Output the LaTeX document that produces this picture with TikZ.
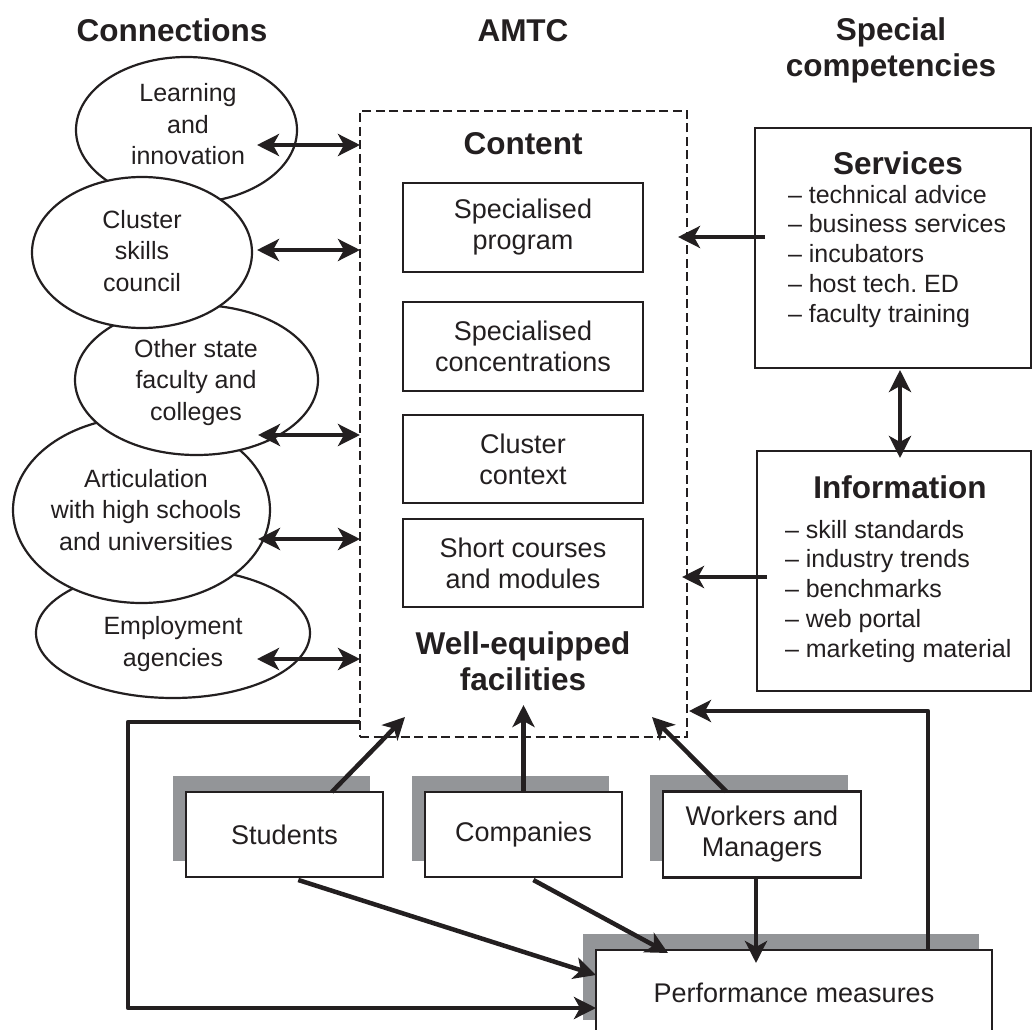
\documentclass[tikz,border=0pt]{standalone}
\usepackage{fontspec}
\setmainfont{Liberation Sans}
\usetikzlibrary{arrows.meta,shapes.geometric,shadows,calc}
\definecolor{ink}{RGB}{35,31,32}
\definecolor{shade}{RGB}{147,149,152}
\frenchspacing

\begin{document}
\begin{tikzpicture}[x=1pt,y=-1pt,
  every node/.style={inner sep=0pt, outer sep=0pt, text=ink},
  % multi-line nodes are anchored at the baseline of their last line
  head/.style={font=\fontsize{31.5}{36}\selectfont\bfseries, align=center, anchor=base},
  ell/.style={ellipse, draw=ink, line width=2.2pt, fill=white},
  etext/.style={font=\fontsize{25}{31.5}\selectfont, align=center, anchor=base},
  box/.style={draw=ink, line width=2.4pt, fill=white, font=\fontsize{27}{31}\selectfont, align=center},
  shbox/.style={box, drop shadow={shadow xshift=-13.5pt, shadow yshift=16.5pt, fill=shade, opacity=1}},
  list/.style={font=\fontsize{25}{29.75}\selectfont, align=left, anchor=base west},
  arr/.style={line width=4.5pt, draw=ink, -{Stealth[length=22pt,width=22pt,inset=6pt]}},
  darr/.style={line width=4.5pt, draw=ink, {Stealth[length=22pt,width=22pt,inset=6pt]}-{Stealth[length=22pt,width=22pt,inset=6pt]}},
  loop/.style={line width=4.5pt, draw=ink, line join=round, -{Stealth[length=22pt,width=22pt,inset=6pt]}},
]
\fill[white] (0,0) rectangle (1034,1030);
\useasboundingbox (0,0) rectangle (1034,1030);

% column headings
\node[head] (hcon) at (172,42) {Connections};
\node[head] (hamtc) at (523,42) {AMTC};
\node[head] (hspec) at (891,77) {Special\\competencies};

% connections (stacked ellipses, lower ones first)
\node[ell, minimum width=274pt, minimum height=130pt] (e5) at (173,633) {};
\node[ell, minimum width=257pt, minimum height=186pt] (e4) at (141.5,510) {};
\node[ell, minimum width=243pt, minimum height=150pt] (e3) at (196.5,380) {};
\node[ell, minimum width=221pt, minimum height=146pt] (e1) at (186.5,130) {};
\node[ell, minimum width=220pt, minimum height=151pt] (e2) at (142,252.5) {};

\node[etext] (t1) at (188,165) {Learning\\and\\innovation};
\node[etext] (t2) at (142,291) {Cluster\\skills\\council};
\node[etext] (t3) at (196,420) {Other state\\faculty and\\colleges};
\node[etext] (t4) at (146,550) {Articulation\\with high schools\\and universities};
\node[etext] (t5) at (173,666) {Employment\\agencies};

% AMTC frame and its content
\node[draw=ink, line width=2pt, dash pattern=on 9pt off 4.5pt, minimum width=327pt, minimum height=626pt] (amtc) at (523.5,424) {};
\node[head] (content) at (523,155) {Content};
\node[box, minimum width=240pt, minimum height=89pt] (prog) at (523,227.5) {Specialised\\program};
\node[box, minimum width=240pt, minimum height=89pt] (conc) at (523,346.5) {Specialised\\concentrations};
\node[box, minimum width=240pt, minimum height=88pt] (ctx) at (523,459) {Cluster\\context};
\node[box, minimum width=240pt, minimum height=88pt] (short) at (523,563) {Short courses\\and modules};
\node[head] (fac) at (523,690) {Well-equipped\\facilities};

% special competencies
\node[draw=ink, line width=2.4pt, minimum width=276pt, minimum height=240pt] (srv) at (893,248) {};
\node[head] (srvt) at (898,175) {Services};
\node[list] (srvl) at (788,322) {– technical advice\\– business services\\– incubators\\– host tech. ED\\– faculty training};

\node[draw=ink, line width=2.4pt, minimum width=274pt, minimum height=240pt] (inf) at (894,571) {};
\node[head] (inft) at (900,498) {Information};
\node[list] (infl) at (785,657) {– skill standards\\– industry trends\\– benchmarks\\– web portal\\– marketing material};

% stakeholders and measures
\node[shbox, minimum width=197pt, minimum height=85pt] (stu) at (284.5,834.5) {Students};
\node[shbox, minimum width=197pt, minimum height=85pt] (com) at (523.5,834.5) {Companies};
\node[shbox, minimum width=198pt, minimum height=86pt] (wrk) at (762,834.5) {Workers and\\Managers};
\node[shbox, minimum width=396pt, minimum height=86pt] (perf) at (794,993) {Performance measures};

% connector end points
\coordinate (c1) at (257,145);
\coordinate (c2) at (257,250);
\coordinate (c3) at (258,435);
\coordinate (c4) at (258,539);
\coordinate (c5) at (257,659);
\coordinate (srvout) at (765,237);
\coordinate (srvin) at (678,237);
\coordinate (infout) at (767,577);
\coordinate (infin) at (682,577);
\coordinate (stuin) at (405,717);
\coordinate (comin) at (523.5,705);
\coordinate (wrkin) at (652,717);
\coordinate (stuperf) at (596,975);
\coordinate (comperf) at (668,953);
\coordinate (wrkperf) at (756,963);
\coordinate (loopL) at (128,722);
\coordinate (loopB) at (128,1008);
\coordinate (loopR) at (928,711);
\coordinate (fbin) at (689,711);

% links between connections and AMTC
\draw[darr] (c1) -- (c1 -| amtc.west);
\draw[darr] (c2) -- (c2 -| amtc.west);
\draw[darr] (c3) -- (c3 -| amtc.west);
\draw[darr] (c4) -- (c4 -| amtc.west);
\draw[darr] (c5) -- (c5 -| amtc.west);

% competencies feed AMTC
\draw[arr] (srvout) -- (srvin);
\draw[arr] (infout) -- (infin);
\draw[darr] ([xshift=7pt,yshift=-2pt]srv.south) -- ([xshift=6pt,yshift=-7pt]inf.north);

% stakeholders feed AMTC
\draw[arr] ($(stu.north west)!0.74!(stu.north east)$) -- (stuin);
\draw[arr] (com.north) -- (comin);
\draw[arr] ($(wrk.north west)!0.32!(wrk.north east)$) -- (wrkin);

% stakeholders feed measures
\draw[arr] ($(stu.south west)!0.57!(stu.south east)+(0,3)$) -- (stuperf);
\draw[arr] ($(com.south west)!0.55!(com.south east)+(0,3)$) -- (comperf);
\draw[arr] (wrk.south -| wrkperf) -- (wrkperf);

% feedback loops
\draw[loop] (loopL -| amtc.west) -- (loopL) -- (loopB) -- (loopB -| perf.west);
\draw[loop] (loopR |- perf.north) -- (loopR) -- (fbin);
\end{tikzpicture}
\end{document}
